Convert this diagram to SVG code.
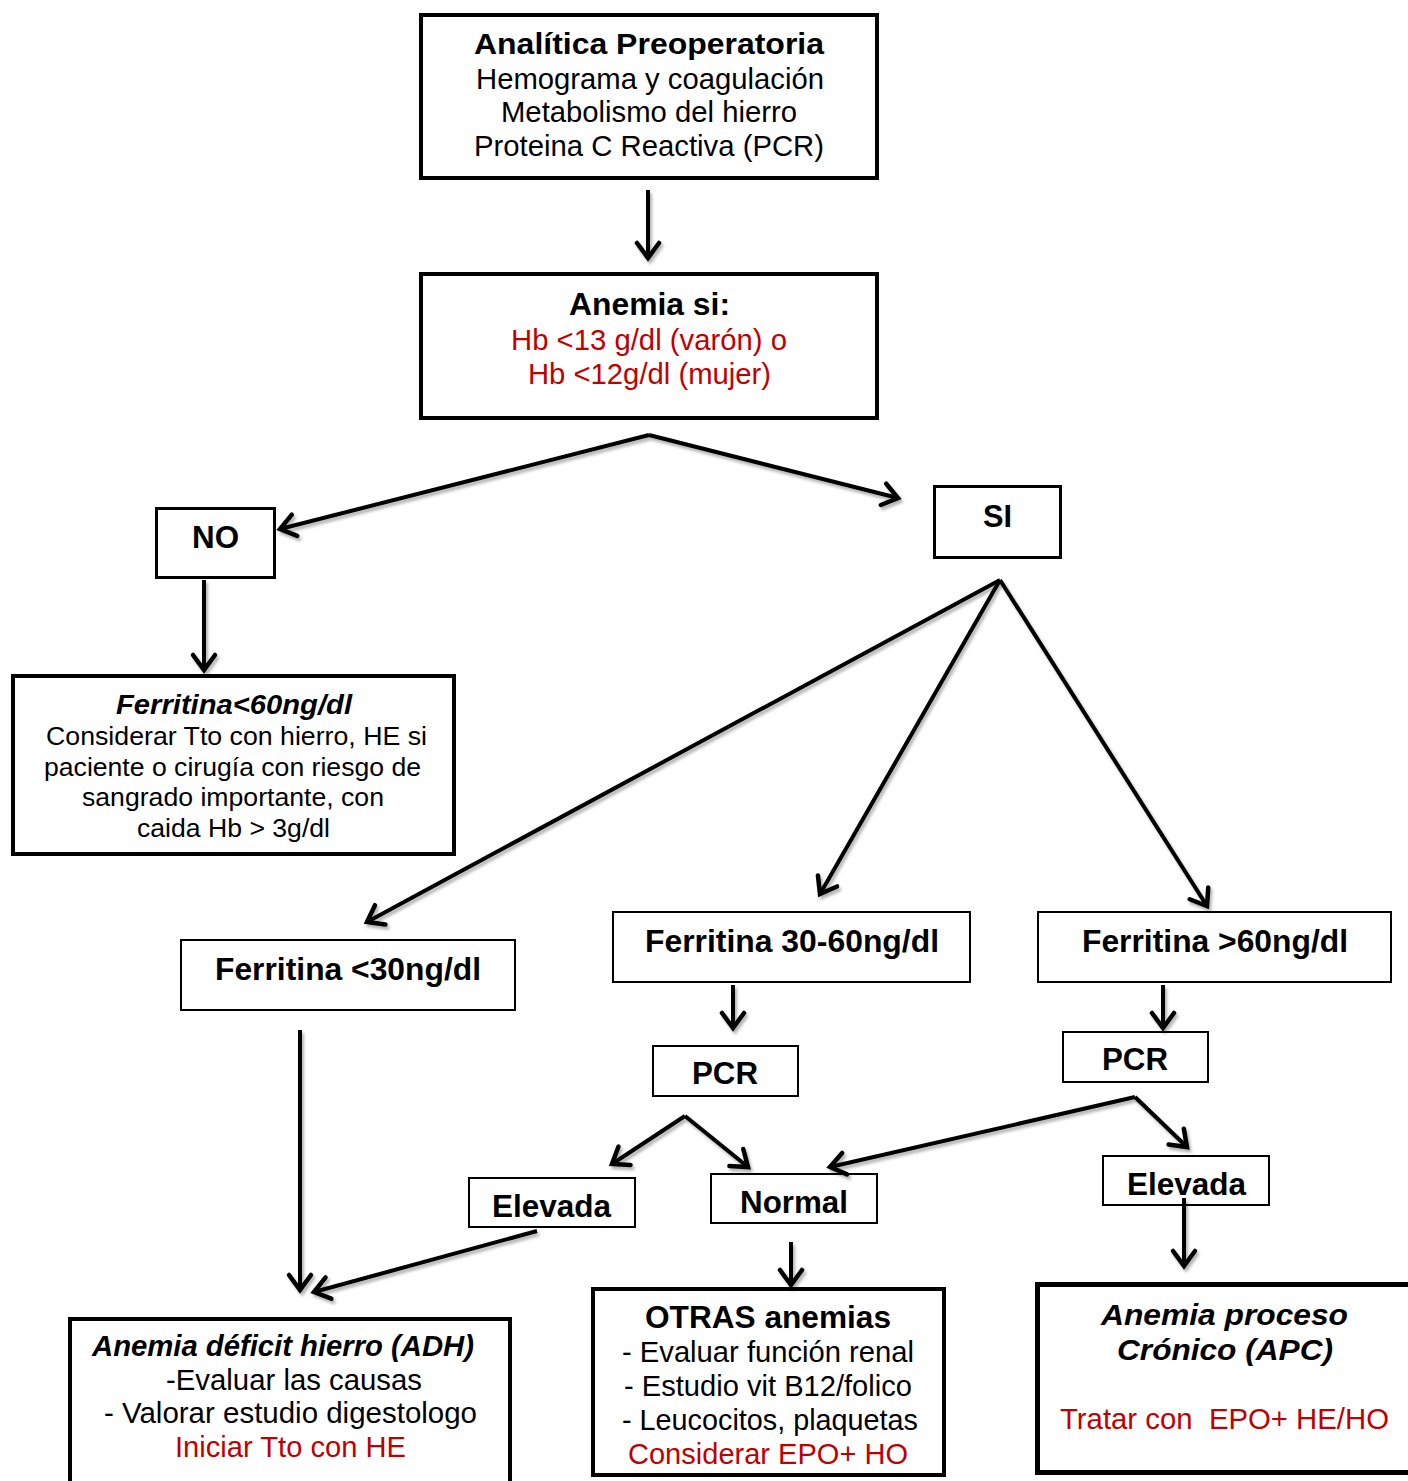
<svg xmlns="http://www.w3.org/2000/svg" width="1408" height="1481" viewBox="0 0 1408 1481">
<defs>
<style>
.box{fill:#fff;stroke:#000}
.t4{stroke-width:4}
.t3{stroke-width:3}
.t2{stroke-width:2}
text{font-family:"Liberation Sans",Arial,sans-serif;text-anchor:middle;fill:#000}
.b{font-weight:bold}
.bi{font-weight:bold;font-style:italic}
.red{fill:#C00000}
.con line{stroke:#000;stroke-width:4;fill:none;marker-end:url(#ah)}
</style>
<marker id="ah" markerUnits="userSpaceOnUse" viewBox="-20 -15 30 30" refX="0" refY="0" markerWidth="30" markerHeight="30" orient="auto">
<path d="M-15,-11 L0,0 L-15,11" fill="none" stroke="#000" stroke-width="4.5" stroke-linejoin="miter" stroke-linecap="round"/>
</marker>
<filter id="sh" x="-10%" y="-10%" width="130%" height="130%">
<feDropShadow dx="2" dy="3" stdDeviation="1.5" flood-color="#000" flood-opacity="0.3"/>
</filter>
</defs>
<rect width="1408" height="1481" fill="#fff"/>

<g id="n-analitica">
<rect class="box t4" x="421" y="15" width="456" height="163"/>
<text class="b" x="649" y="54" font-size="30" textLength="350" lengthAdjust="spacingAndGlyphs">Analítica Preoperatoria</text>
<text x="650" y="89" font-size="29" textLength="348" lengthAdjust="spacingAndGlyphs">Hemograma y coagulación</text>
<text x="649" y="122" font-size="29" textLength="296" lengthAdjust="spacingAndGlyphs">Metabolismo del hierro</text>
<text x="649" y="156" font-size="29" textLength="350" lengthAdjust="spacingAndGlyphs">Proteina C Reactiva (PCR)</text>
</g>

<g id="n-anemia">
<rect class="box t4" x="421" y="274" width="456" height="144"/>
<text class="b" x="649.5" y="315" font-size="31" textLength="161" lengthAdjust="spacingAndGlyphs">Anemia si:</text>
<text class="red" x="649" y="350" font-size="29" textLength="276" lengthAdjust="spacingAndGlyphs">Hb &lt;13 g/dl (varón) o</text>
<text class="red" x="649.5" y="384" font-size="29" textLength="243" lengthAdjust="spacingAndGlyphs">Hb &lt;12g/dl (mujer)</text>
</g>

<g id="n-no">
<rect class="box t3" x="156.5" y="508.5" width="118" height="69"/>
<text class="b" x="215.5" y="548" font-size="31" textLength="47" lengthAdjust="spacingAndGlyphs">NO</text>
</g>

<g id="n-ferr60">
<rect class="box t4" x="13" y="676" width="441" height="178"/>
<text class="bi" x="234" y="714" font-size="28" textLength="236" lengthAdjust="spacingAndGlyphs">Ferritina&lt;60ng/dl</text>
<text x="236.5" y="745" font-size="26.5" textLength="381" lengthAdjust="spacingAndGlyphs">Considerar Tto con hierro, HE si</text>
<text x="232.5" y="776" font-size="26.5" textLength="377" lengthAdjust="spacingAndGlyphs">paciente o cirugía con riesgo de</text>
<text x="233" y="806" font-size="26.5" textLength="302" lengthAdjust="spacingAndGlyphs">sangrado importante, con</text>
<text x="233.5" y="837" font-size="26.5" textLength="193" lengthAdjust="spacingAndGlyphs">caida Hb &gt; 3g/dl</text>
</g>

<g id="n-si">
<rect class="box t3" x="934.5" y="486.5" width="126" height="71"/>
<text class="b" x="997.5" y="527" font-size="31" textLength="29" lengthAdjust="spacingAndGlyphs">SI</text>
</g>

<g id="n-ferr30">
<rect class="box t2" x="181" y="940" width="334" height="70"/>
<text class="b" x="348" y="980" font-size="31" textLength="266" lengthAdjust="spacingAndGlyphs">Ferritina &lt;30ng/dl</text>
</g>

<g id="n-ferr3060">
<rect class="box t2" x="613" y="912" width="357" height="70"/>
<text class="b" x="792" y="952" font-size="31" textLength="294" lengthAdjust="spacingAndGlyphs">Ferritina 30-60ng/dl</text>
</g>

<g id="n-ferrgt60">
<rect class="box t2" x="1038" y="912" width="353" height="70"/>
<text class="b" x="1215" y="952" font-size="31" textLength="266" lengthAdjust="spacingAndGlyphs">Ferritina &gt;60ng/dl</text>
</g>

<g id="n-pcr1">
<rect class="box t2" x="653" y="1046" width="145" height="50"/>
<text class="b" x="725" y="1084" font-size="31" textLength="66" lengthAdjust="spacingAndGlyphs">PCR</text>
</g>

<g id="n-pcr2">
<rect class="box t2" x="1063" y="1032" width="145" height="50"/>
<text class="b" x="1135" y="1070" font-size="31" textLength="66" lengthAdjust="spacingAndGlyphs">PCR</text>
</g>

<g id="n-elevada1">
<rect class="box t2" x="469" y="1178" width="166" height="49"/>
<text class="b" x="551.5" y="1217" font-size="31" textLength="119" lengthAdjust="spacingAndGlyphs">Elevada</text>
</g>

<g id="n-normal">
<rect class="box t2" x="711" y="1174" width="166" height="49"/>
<text class="b" x="794" y="1213" font-size="31" textLength="108" lengthAdjust="spacingAndGlyphs">Normal</text>
</g>

<g id="n-elevada2">
<rect class="box t2" x="1103" y="1156" width="166" height="49"/>
<text class="b" x="1186.5" y="1195" font-size="31" textLength="119" lengthAdjust="spacingAndGlyphs">Elevada</text>
</g>

<g id="n-adh">
<rect class="box t4" x="70" y="1319" width="440" height="200"/>
<text class="bi" x="283" y="1356" font-size="29" textLength="382" lengthAdjust="spacingAndGlyphs">Anemia déficit hierro (ADH)</text>
<text x="294" y="1390" font-size="29" textLength="256" lengthAdjust="spacingAndGlyphs">-Evaluar las causas</text>
<text x="290.5" y="1423" font-size="29" textLength="373" lengthAdjust="spacingAndGlyphs">- Valorar estudio digestologo</text>
<text class="red" x="290.5" y="1457" font-size="29" textLength="231" lengthAdjust="spacingAndGlyphs">Iniciar Tto con HE</text>
</g>

<g id="n-otras">
<rect class="box t4" x="593" y="1289" width="351" height="186"/>
<text class="b" x="768" y="1328" font-size="31" textLength="246" lengthAdjust="spacingAndGlyphs">OTRAS anemias</text>
<text x="768" y="1362" font-size="29" textLength="292" lengthAdjust="spacingAndGlyphs">- Evaluar función renal</text>
<text x="768" y="1396" font-size="29" textLength="288" lengthAdjust="spacingAndGlyphs">- Estudio vit B12/folico</text>
<text x="770" y="1430" font-size="29" textLength="296" lengthAdjust="spacingAndGlyphs">- Leucocitos, plaquetas</text>
<text class="red" x="768" y="1464" font-size="29" textLength="280" lengthAdjust="spacingAndGlyphs">Considerar EPO+ HO</text>
</g>

<g id="n-apc">
<rect class="box" stroke-width="5" x="1037.5" y="1284.5" width="380" height="188"/>
<text class="bi" x="1224.5" y="1325" font-size="30" textLength="247" lengthAdjust="spacingAndGlyphs">Anemia proceso</text>
<text class="bi" x="1225" y="1360" font-size="30" textLength="216" lengthAdjust="spacingAndGlyphs">Crónico (APC)</text>
<text class="red" x="1224.5" y="1429" font-size="29" textLength="329" lengthAdjust="spacingAndGlyphs" xml:space="preserve">Tratar con  EPO+ HE/HO</text>
</g>

<g id="connectors" class="con" filter="url(#sh)">
<line x1="648" y1="190" x2="648" y2="258"/>
<line x1="649" y1="435" x2="280" y2="529"/>
<line x1="649" y1="435" x2="898" y2="498"/>
<line x1="204" y1="580" x2="204" y2="670"/>
<line x1="1000" y1="580" x2="367" y2="922"/>
<line x1="1000" y1="580" x2="820" y2="894"/>
<line x1="1000" y1="580" x2="1207" y2="906"/>
<line x1="733" y1="985" x2="733" y2="1028"/>
<line x1="1163" y1="985" x2="1163" y2="1028"/>
<line x1="685" y1="1116" x2="612" y2="1164"/>
<line x1="685" y1="1116" x2="748" y2="1167"/>
<line x1="1135" y1="1097" x2="830" y2="1167"/>
<line x1="1135" y1="1097" x2="1187" y2="1147"/>
<line x1="1184" y1="1198" x2="1184" y2="1266"/>
<line x1="791" y1="1242" x2="791" y2="1285"/>
<line x1="300" y1="1030" x2="300" y2="1290"/>
<line x1="537" y1="1231" x2="314" y2="1292"/>
</g>
</svg>
